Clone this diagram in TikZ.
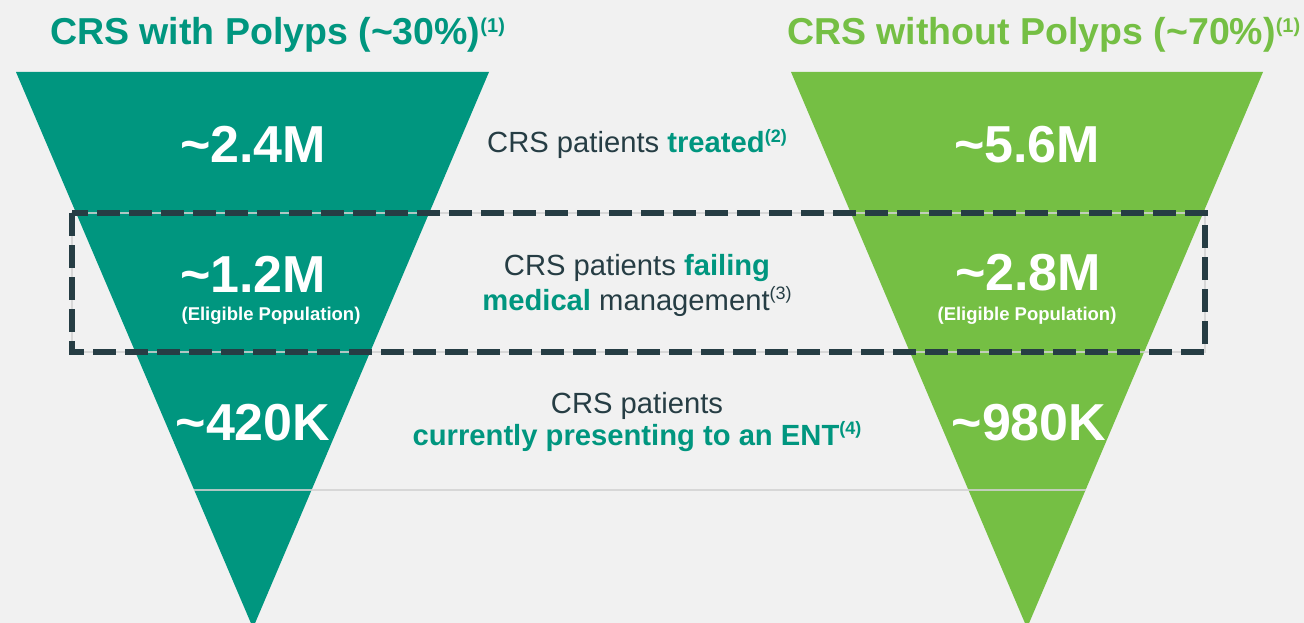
\documentclass[tikz,border=0pt]{standalone}
\usepackage{fontspec}
\setmainfont{Liberation Sans}
\definecolor{tealc}{HTML}{00967F}
\definecolor{greenc}{HTML}{75BF44}
\definecolor{slatec}{HTML}{263D44}
\definecolor{bgc}{HTML}{F1F1F1}
\definecolor{rulec}{HTML}{D2D2D2}
\newcommand\mysup[3]{\raisebox{#2}{\fontsize{#1}{#1}\selectfont #3}}
\begin{document}
\begin{tikzpicture}[x=1pt,y=-1pt,
  title/.style={anchor=base west, inner sep=0pt, font=\fontsize{37.5}{40}\selectfont\bfseries},
  big/.style={anchor=base, inner sep=0pt, text=white, font=\fontsize{52}{56}\selectfont\bfseries},
  elig/.style={anchor=base, inner sep=0pt, text=white, font=\fontsize{18.5}{20}\selectfont\bfseries},
  mid/.style={anchor=base, inner sep=0pt, text=slatec, font=\fontsize{29.2}{32}\selectfont},
  funnel/.style={draw=none},
  thinrule/.style={draw=rulec, draw opacity=0.83, line width=1.6pt},
  dashbox/.style={draw=slatec, line width=6pt, dash pattern=on 23pt off 9pt, miter limit=10}
]
\useasboundingbox (0,0) rectangle (1304,623);
\fill[bgc] (0,0) rectangle (1304,623);
% funnels
\fill[tealc, funnel] (16,72) -- (489,72) -- (253,628) -- cycle;
\fill[greenc, funnel] (791,72) -- (1263,72) -- (1027,628) -- cycle;
% separating rule
\draw[thinrule] (194,490) -- (1086,490);
% dashed box
\draw[thinrule] (72,213) rectangle (1205,352);
\draw[dashbox] (72,213) rectangle (1205,352);
% titles
\node[title, text=tealc] (t1) at (50,45) {CRS with Polyps (\textasciitilde30\%)\mysup{20}{12pt}{(1)}};
\node[title, text=greenc] (t2) at (787,45) {CRS without Polyps (\textasciitilde70\%)\mysup{20}{12pt}{(1)}};
% left numbers
\node[big] (l1) at (253,162) {\textasciitilde2.4M};
\node[big] (l2) at (253,292) {\textasciitilde1.2M};
\node[elig] (l2e) at (271,320) {(Eligible Population)};
\node[big] (l3) at (253,440) {\textasciitilde420K};
% right numbers
\node[big] (r1) at (1027,162) {\textasciitilde5.6M};
\node[big] (r2) at (1028,290) {\textasciitilde2.8M};
\node[elig] (r2e) at (1027,320) {(Eligible Population)};
\node[big] (r3) at (1029,440) {\textasciitilde980K};
% middle labels
\node[mid] (m1) at (637,153) {CRS patients \textcolor{tealc}{\bfseries treated\mysup{18}{10.5pt}{(2)}}};
\node[mid] (m2a) at (637,275) {CRS patients \textcolor{tealc}{\bfseries failing}};
\node[mid] (m2b) at (637,310) {\textcolor{tealc}{\bfseries medical} management\mysup{18}{10.5pt}{(3)}};
\node[mid] (m3a) at (637,413) {CRS patients};
\node[mid] (m3b) at (637,445) {\textcolor{tealc}{\bfseries currently presenting to an ENT\mysup{18}{10.5pt}{(4)}}};
\end{tikzpicture}
\end{document}
